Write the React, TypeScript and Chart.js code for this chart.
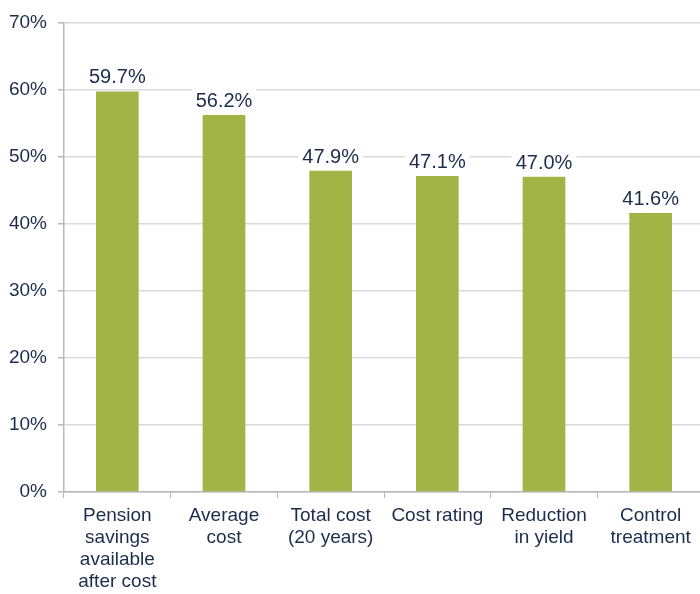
import React, { useEffect, useRef } from "react";
import { Chart, registerables } from "chart.js";

Chart.register(...registerables);

const categories: string[][] = [
  ["Pension", "savings", "available", "after cost"],
  ["Average", "cost"],
  ["Total cost", "(20 years)"],
  ["Cost rating"],
  ["Reduction", "in yield"],
  ["Control", "treatment"],
];
const values: number[] = [59.7, 56.2, 47.9, 47.1, 47.0, 41.6];
const yTicks: number[] = [0, 10, 20, 30, 40, 50, 60, 70];

const TEXT = "#1c2c4c";
const FONT = "'Liberation Sans', Arial, sans-serif";

const labelPlugin = {
  id: "valueLabels",
  afterDatasetsDraw(chart: any) {
    const ctx = chart.ctx;
    const meta = chart.getDatasetMeta(0);
    ctx.save();
    ctx.font = `20px ${FONT}`;
    ctx.textAlign = "center";
    ctx.textBaseline = "alphabetic";
    meta.data.forEach((bar: any, i: number) => {
      const txt = values[i].toFixed(1) + "%";
      const w = ctx.measureText(txt).width;
      const by = bar.y - 8;
      ctx.fillStyle = "#ffffff";
      ctx.fillRect(bar.x - w / 2 - 4, by - 20, w + 8, 25);
      ctx.fillStyle = TEXT;
      ctx.fillText(txt, bar.x, by);
    });
    ctx.restore();
  },
};

export default function App() {
  const ref = useRef<HTMLCanvasElement | null>(null);
  useEffect(() => {
    if (!ref.current) return;
    const chart = new Chart(ref.current, {
      type: "bar",
      data: {
        labels: categories,
        datasets: [
          {
            data: values,
            backgroundColor: "#a2b446",
            barPercentage: 0.4,
            categoryPercentage: 1,
          },
        ],
      },
      options: {
        responsive: false,
        animation: false,
        layout: { padding: { top: 20, right: 0, left: 0, bottom: 0 } },
        plugins: { legend: { display: false }, tooltip: { enabled: false } },
        scales: {
          x: {
            afterFit: (s: any) => {
              s.height = 102;
            },
            grid: {
              offset: true,
              drawOnChartArea: false,
              tickLength: 6,
              color: "#b8b8b8",
            },
            border: { color: "#b8b8b8", width: 1.5 },
            ticks: {
              color: TEXT,
              font: { family: FONT, size: 19, lineHeight: 1.158 },
              padding: 7,
              maxRotation: 0,
              autoSkip: false,
            },
          },
          y: {
            min: 0,
            max: 70,
            afterFit: (s: any) => {
              s.width = 64;
            },
            afterBuildTicks: (s: any) => {
              s.ticks = yTicks.map((v) => ({ value: v }));
            },
            grid: {
              color: "#d9d9d9",
              lineWidth: 1.5,
              tickLength: 6,
              tickColor: "#b8b8b8",
            },
            border: { color: "#b8b8b8", width: 1.5 },
            ticks: {
              color: TEXT,
              font: { family: FONT, size: 19 },
              padding: 11,
              callback: (v: any) => v + "%",
            },
          },
        },
      },
      plugins: [labelPlugin],
    });
    return () => chart.destroy();
  }, []);
  return (
    <div
      style={{
        position: "fixed",
        left: 0,
        top: 0,
        width: 700,
        height: 594,
        overflow: "hidden",
        background: "#fff",
      }}
    >
      <canvas ref={ref} width={704} height={594} style={{ display: "block" }} />
    </div>
  );
}
